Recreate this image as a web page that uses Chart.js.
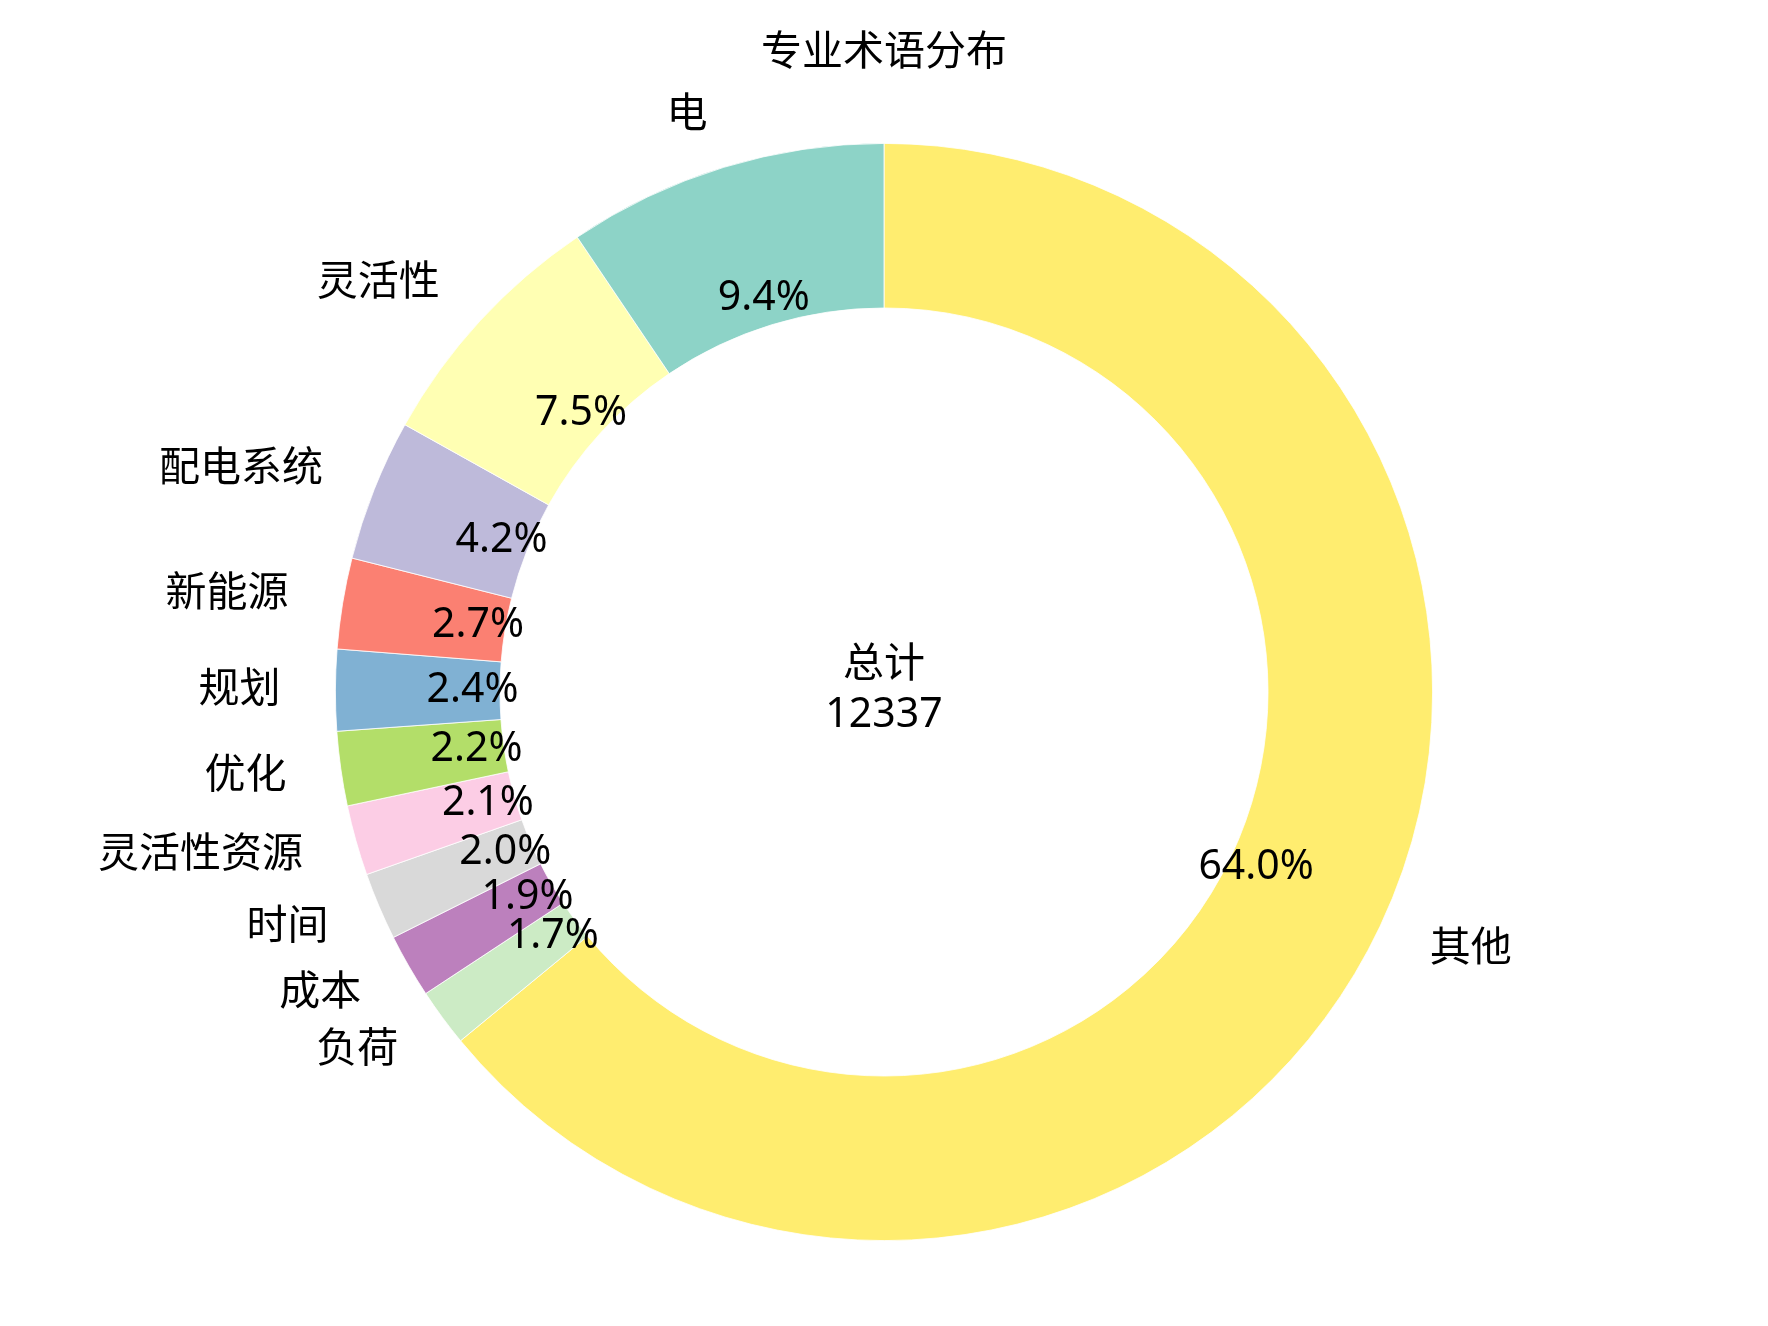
<!DOCTYPE html>
<html>
<head>
<meta charset="utf-8">
<script src="https://cdn.jsdelivr.net/npm/chart.js@4/dist/chart.umd.min.js"></script>
<style>
  html, body { margin: 0; padding: 0; background: #fff; }
  canvas { display: block; }
</style>
</head>
<body>
<canvas id="chart" width="1768" height="1326"></canvas>
<script>
// matplotlib draws counter-clockwise from the top, so the lists run in reverse
let labels = ['其他', '负荷', '成本', '时间', '灵活性资源', '优化', '规划', '新能源', '配电系统', '灵活性', '电'];
let counts = [7900, 210, 232, 245, 255, 270, 295, 330, 515, 920, 1165];
let colors = ['#ffed6f', '#ccebc5', '#bc80bd', '#d9d9d9', '#fccde5', '#b3de69', '#80b1d3', '#fb8072', '#bebada', '#ffffb3', '#8dd3c7'];
let title = '专业术语分布';
let centerText = ['总计', '12337'];

var FONT = '41px "Noto Sans", "Noto Sans CJK SC", sans-serif';
var total = counts.reduce(function (a, b) { return a + b; }, 0);

var textPlugin = {
    id: 'pieText',
    afterDraw: function (chart) {
        var ctx = chart.ctx;
        var arcs = chart.getDatasetMeta(0).data;
        ctx.save();
        ctx.font = FONT;
        ctx.fillStyle = '#000';
        ctx.textBaseline = 'middle';

        arcs.forEach(function (arc, i) {
            var mid = (arc.startAngle + arc.endAngle) / 2;
            var R = arc.outerRadius;
            var c = Math.cos(mid), s = Math.sin(mid);

            // category label outside
            ctx.textAlign = c < 0 ? 'right' : 'left';
            ctx.fillText(labels[i], arc.x + c * R * 1.1, arc.y + s * R * 1.1);

            // percentage inside the ring
            ctx.textAlign = 'center';
            var pct = (counts[i] / total * 100).toFixed(1) + '%';
            ctx.fillText(pct, arc.x + c * R * 0.75, arc.y + s * R * 0.75);
        });

        var cx = arcs[0].x, cy = arcs[0].y;
        ctx.textAlign = 'center';
        ctx.fillText(centerText[0], cx, cy - 27);
        ctx.fillText(centerText[1], cx, cy + 23);

        ctx.fillText(title, cx, 53);
        ctx.restore();
    }
};

var ctx = document.getElementById('chart').getContext('2d');

var chart = new Chart(ctx, {
    type: 'doughnut',
    data: {
        labels: labels,
        datasets: [{
            data: counts,
            backgroundColor: colors,
            borderColor: '#ffffff',
            borderWidth: 0.8
        }]
    },
    options: {
        responsive: false,
        devicePixelRatio: 1,
        animation: false,
        cutout: '70%',
        rotation: 0,
        layout: { padding: { top: 143, bottom: 85, left: 0, right: 0 } },
        plugins: {
            legend: { display: false },
            tooltip: { enabled: false },
            title: { display: false }
        }
    },
    plugins: [textPlugin]
});
</script>
</body>
</html>
